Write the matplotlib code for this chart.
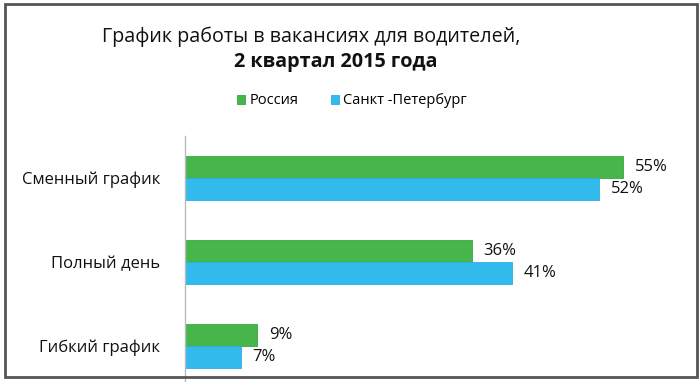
import matplotlib.pyplot as plt
import matplotlib.patches as patches
import numpy as np

plt.rcParams['font.family'] = ['Open Sans', 'DejaVu Sans']

categories = ['Сменный график', 'Полный день', 'Гибкий график']
russia = [55, 36, 9]
spb = [52, 41, 7]
series_names = ['Россия', 'Санкт -Петербург']
title_line1 = 'График работы в вакансиях для водителей,'
title_line2 = '2 квартал 2015 года'

green = '#46b64a'
blue = '#32bbec'

W, H = 700, 382
fig = plt.figure(figsize=(W / 100, H / 100), dpi=100)

# область графика: ось на x=185, верх на y=136, шаг категорий 84 px
ax = fig.add_axes([185 / W, 1 - 388 / H, 478 / W, 252 / H])

y = np.arange(len(categories))
h = 22 / 84
b1 = ax.barh(y - h / 2, russia, height=h, color=green, edgecolor='#3aa63e', linewidth=0.6, label=series_names[0])
b2 = ax.barh(y + h / 2, spb, height=h, color=blue, edgecolor='#2aaee0', linewidth=0.6, label=series_names[1])

for bars, vals in ((b1, russia), (b2, spb)):
    for bar, v in zip(bars, vals):
        ax.text(bar.get_width() + 1.5, bar.get_y() + bar.get_height() / 2, f'{v}%',
                ha='left', va='center', fontsize=12, color='#111111')

ax.set_xlim(0, 60)
ax.set_ylim(2.5, -0.5)
ax.set_yticks(y)
ax.set_yticklabels(categories, fontsize=12, color='#111111')
ax.tick_params(axis='y', length=0, pad=18)
ax.set_xticks([])
for s in ('top', 'right', 'bottom'):
    ax.spines[s].set_visible(False)
ax.spines['left'].set_color('#bbbbbb')
ax.spines['left'].set_linewidth(1)

fig.text(311 / W, 1 - 42 / H, title_line1, ha='center', va='baseline', fontsize=14.2, color='#111111')
fig.text(336 / W, 1 - 67 / H, title_line2, ha='center', va='baseline', fontsize=14.2,
         fontweight='bold', color='#111111')

fig.legend(handles=[b1, b2], loc='center', bbox_to_anchor=(352 / W, 1 - 101 / H), ncol=2,
           frameon=False, fontsize=10.5, handlelength=0.55, handleheight=0.55,
           handletextpad=0.3, columnspacing=2.2, borderpad=0)

# рамка вокруг всего рисунка
frame = patches.Rectangle((5 / W, 1 - 377 / H), 692 / W, 373 / H, transform=fig.transFigure,
                          fill=False, edgecolor='#555555', linewidth=2, zorder=10)
fig.patches.append(frame)

fig.savefig('out.png', dpi=100)
